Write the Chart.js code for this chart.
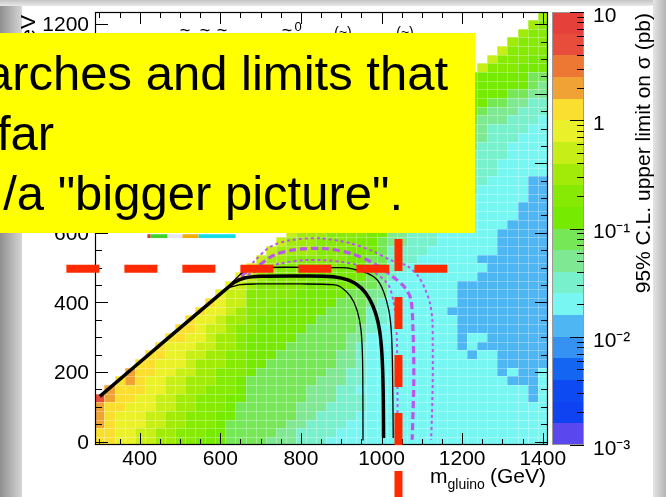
<!DOCTYPE html>
<html>
<head>
<meta charset="utf-8">
<script src="https://cdn.jsdelivr.net/npm/chart.js@4.4.1/dist/chart.umd.min.js"></script>
<style>
  html, body { margin: 0; padding: 0; background: #fff; }
  #page { position: relative; width: 666px; height: 497px; overflow: hidden; background: #fff; }
  .strip { position: absolute; }
  #stripLeft { left: 0; top: 0; width: 22px; height: 497px; background: linear-gradient(to right, #8f8f8f, #d6d6d6); }
  #stripTop { left: 0; top: 0; width: 666px; height: 6px; background: linear-gradient(to bottom, #c4c4c4, #e9e9e9); }
  #stripRight { left: 653px; top: 0; width: 13px; height: 497px; background: linear-gradient(to right, #e4e4e4, #b4b4b4); }
  canvas { position: absolute; left: 0; top: 0; }
</style>
</head>
<body>
<div id="page">
  <div class="strip" id="stripLeft"></div>
  <div class="strip" id="stripTop"></div>
  <div class="strip" id="stripRight"></div>
  <canvas id="limitChart" width="666" height="497"></canvas>
</div>
<script>
/* 95% CL upper limit map in the (m_gluino, m_LSP) plane, with exclusion contours */

const FONT = "'Liberation Sans', Arial, Helvetica, sans-serif";

// bin centres (GeV), 25 GeV bins
const mGluinoBins = [300, 325, 350, 375, 400, 425, 450, 475, 500, 525, 550, 575, 600, 625, 650,
  675, 700, 725, 750, 775, 800, 825, 850, 875, 900, 925, 950, 975, 1000, 1025, 1050, 1075, 1100,
  1125, 1150, 1175, 1200, 1225, 1250, 1275, 1300, 1325, 1350, 1375, 1400];
const mLspBins = [0, 25, 50, 75, 100, 125, 150, 175, 200, 225, 250, 275, 300, 325, 350, 375, 400,
  425, 450, 475, 500, 525, 550, 575, 600, 625, 650, 675, 700, 725, 750, 775, 800, 825, 850, 875,
  900, 925, 950, 975, 1000, 1025, 1050, 1075, 1100, 1125, 1150, 1175, 1200, 1225];
const BIN_WIDTH = 25;

// colour levels of the z axis (pb), 5 per decade
const levelEdges = [0.001, 0.001585, 0.002512, 0.003981, 0.00631, 0.01, 0.01585, 0.02512, 0.03981,
  0.0631, 0.1, 0.1585, 0.2512, 0.3981, 0.631, 1, 1.585, 2.512, 3.981, 6.31, 10];
const paletteColors = ['#5a48ee', '#0f42f0', '#0d4af2', '#1466f2', '#3592f2', '#4fb6f4',
  '#78f6f2', '#78f0cc', '#7ee892', '#76e858', '#76ea00', '#86ea04', '#a2ea08', '#c8ee18',
  '#eaf02a', '#fadf30', '#f0a234', '#ec7834', '#e84c3a', '#e6403a'];

// limit level per cell (base-36 digit = colour level, '.' = no point / hidden)
// rows m_LSP = 0..600, all 45 gluino bins, spaces only for reading
const lowerLevels = [
  "ffeed dccbb aaa99 99888 77766 66666 66666 66666 66666",
  "ffeed dccbb baa99 99988 77776 66666 66666 66666 66666",
  "gfeee ddccb bba99 99998 87777 66666 66666 66666 66666",
  "gfeee ddccb bbaa9 99999 88777 76666 66666 66666 66666",
  "gffee eddcc bbba9 99999 88877 77666 66666 66666 66666",
  "igffe eddcc bbbaa 99999 98887 77666 66666 66666 66656",
  ".gfff eeddc cbbba 99999 98887 76666 66666 66666 66656",
  "..fgf eeddc ccbba 99999 99888 77666 66666 66666 65556",
  "...gf feedd ccbbb a9999 99988 77666 66666 66666 56556",
  "....f feeed cccbb aa999 99998 87666 66666 66666 55555",
  "..... ffeed dccbb aaa99 99998 87666 66666 66566 55555",
  "..... .feee ddccb aaaa9 99999 87666 66666 65655 55555",
  "..... ..ffe edccb aaaaa 99999 88666 66666 65665 55555",
  "..... ...ff eddcb baaaa a9999 98766 66666 65555 55555",
  "..... ....f eedcc baaaa aa999 99776 66666 65555 55555",
  "..... ..... feedc bbaaa aaa99 99776 66666 55555 55555",
  "..... ..... .fedd bbbaa aaaa9 99876 66666 65555 55555",
  "..... ..... ..edd bbbbb aaaaa 99886 66666 65555 55555",
  "..... ..... ...ed cbbbb baaaa a9986 66666 65555 55555",
  "..... ..... ....e dcbbb bbaaa aa987 66666 66655 55555",
  "..... ..... ..... eccbb bbbba aa997 76666 66665 55555",
  "..... ..... ..... .dccb bbbbb aa997 77666 66655 55555",
  "..... ..... ..... ..dcc ccbbb aaa97 77766 66666 55555",
  "..... ..... ..... ...dc ccbbb baa98 87776 66666 55555",
  "..... ..... ..... ....d cccbb bbaa8 87776 66666 55555"
];
// rows m_LSP = 625..1225, only the gluino bins 1225..1400 are visible
const UPPER_FIRST_COL = 37;
const upperLevels = [
  "66665555", "66666555", "66666555", "66666655", "76666655", "77666655", "77766666",
  "77766666", "77776666", "87776666", "88777666", "88777766", "98887776", "a9888777",
  "aa998877", "aaaa9988", "aaaaaa98", "baaaaa99", ".dbbbaaa", "..dbbbaa", "...dbbbb",
  "....cbbb", ".....cbb", "......cb", ".......c"
];

// exclusion contours [m_gluino, m_LSP]
const obsLimit = [[301, 130], [460, 287], [617, 441], [635, 458], [660, 470], [700, 475], [800, 476],
  [880, 474], [920, 463], [950, 441], [970, 410], [985, 370], [995, 320], [1001, 250], [1004, 150], [1005, 10]];
const obsLimitUp = [[612, 436], [640, 470], [663, 493], [700, 500], [800, 501], [900, 500], [922, 498],
  [964, 484], [989, 465], [1005, 431], [1018, 378], [1024, 321], [1027, 226], [1029, 10]];
const obsLimitDown = [[617, 441], [650, 451], [690, 453], [800, 453], [880, 451], [898, 445], [923, 417],
  [939, 378], [949, 321], [953, 226], [954, 3]];
const expLimit = [[650, 478], [691, 503], [733, 536], [782, 551], [857, 555], [923, 541], [981, 512],
  [1028, 474], [1059, 441], [1073, 407], [1078, 321], [1080, 178], [1076, 5]];
const expLimitUp = [[660, 487], [683, 517], [724, 560], [774, 579], [849, 584], [923, 570], [981, 546],
  [1022, 522], [1063, 505], [1092, 474], [1109, 436], [1120, 398], [1126, 350], [1127, 273],
  [1127, 178], [1125, 72], [1123, 5]];
const expLimitDown = [[640, 467], [700, 493], [749, 512], [815, 522], [898, 517], [964, 498],
  [1014, 455], [1030, 400], [1037, 330], [1039, 200], [1040, 5]];

// hand-drawn markers on the slide
const markLsp = [[218, 497], [1164, 497]];
const markGluino = [[1042, 582], [1042, -180]];

// piece of the legend peeking out under the text box
const legendEdges = [419, 427, 469, 506, 546, 638];
const legendColors = ['#c04a2a', '#3fd22a', '#e6e4f2', '#f0ae08', '#12dde6'];
const legendBand = [585, 596];

const xTickValues = [400, 600, 800, 1000, 1200, 1400];
const yTickValues = [0, 200, 400, 600, 800, 1000, 1200];
const cbTickValues = [0.001, 0.01, 0.1, 1, 10];
const cbTickLabels = ['10⁻³', '10⁻²', '10⁻¹', '1', '10'];

const zTitle = '95% C.L. upper limit on σ (pb)';
const boxLines = ['arches and limits that', 'far', '/a "bigger picture".'];

function drawCells(chart) {
  const { ctx, chartArea: a, scales: { x, y } } = chart;
  const half = BIN_WIDTH / 2;
  const cells = [];
  lowerLevels.forEach(function (s, row) {
    s.replace(/ /g, '').split('').forEach(function (ch, col) { cells.push([col, row, ch]); });
  });
  upperLevels.forEach(function (s, k) {
    s.split('').forEach(function (ch, c) { cells.push([UPPER_FIRST_COL + c, lowerLevels.length + k, ch]); });
  });

  ctx.save();
  ctx.beginPath();
  ctx.rect(a.left, a.top, a.right - a.left, a.bottom - a.top);
  ctx.clip();
  const boxes = [];
  cells.forEach(function (c) {
    if (c[2] === '.') return;
    const gx = mGluinoBins[c[0]], ly = mLspBins[c[1]];
    const x0 = Math.round(x.getPixelForValue(gx - half));
    const x1 = Math.round(x.getPixelForValue(gx + half));
    const y0 = Math.round(y.getPixelForValue(ly + half));
    const y1 = Math.round(y.getPixelForValue(ly - half));
    ctx.fillStyle = paletteColors[parseInt(c[2], 36)];
    ctx.fillRect(x0, y0, x1 - x0, y1 - y0);
    boxes.push([x0, y0, x1, y1]);
  });
  ctx.strokeStyle = 'rgba(255,255,255,0.3)';
  ctx.lineWidth = 1;
  ctx.beginPath();
  boxes.forEach(function (b) {
    ctx.moveTo(b[0] + 0.5, b[1]); ctx.lineTo(b[0] + 0.5, b[3]);
    ctx.moveTo(b[0], b[1] + 0.5); ctx.lineTo(b[2], b[1] + 0.5);
  });
  ctx.stroke();
  ctx.restore();
}

function drawFrame(chart) {
  const { ctx, chartArea: a, scales: { x, y } } = chart;
  ctx.save();
  ctx.strokeStyle = '#000';
  ctx.lineWidth = 1.2;
  ctx.strokeRect(a.left + 0.5, a.top + 0.5, a.right - a.left - 1, a.bottom - a.top - 1);
  ctx.lineWidth = 1;
  ctx.beginPath();
  for (let v = 300; v <= 1400; v += 50) {
    const px = Math.round(x.getPixelForValue(v)) + 0.5;
    const len = v % 200 === 0 ? 12 : 6;
    ctx.moveTo(px, a.bottom); ctx.lineTo(px, a.bottom - len);
    ctx.moveTo(px, a.top); ctx.lineTo(px, a.top + len);
  }
  for (let v = 0; v <= 1200; v += 50) {
    const py = Math.round(y.getPixelForValue(v)) + 0.5;
    const len = v % 200 === 0 ? 13 : 7;
    ctx.moveTo(a.left, py); ctx.lineTo(a.left + len, py);
    ctx.moveTo(a.right, py); ctx.lineTo(a.right - len, py);
  }
  ctx.stroke();
  ctx.restore();
}

function drawColorBar(chart) {
  const { ctx, chartArea: a, scales: { cb } } = chart;
  const left = Math.round(cb.left) + 4, right = left + 32;
  ctx.save();
  for (let k = 0; k < paletteColors.length; k++) {
    const top = Math.round(cb.getPixelForValue(levelEdges[k + 1]));
    const bottom = Math.round(cb.getPixelForValue(levelEdges[k]));
    ctx.fillStyle = paletteColors[k];
    ctx.fillRect(left, top, right - left, bottom - top);
  }
  ctx.strokeStyle = '#9a9a9a';
  ctx.lineWidth = 1;
  ctx.strokeRect(left + 0.5, a.top + 0.5, right - left - 1, a.bottom - a.top - 1);
  ctx.strokeStyle = '#000';
  ctx.beginPath();
  for (let e = -3; e <= 1; e++) {
    for (let m = 1; m <= 9; m++) {
      const v = m * Math.pow(10, e);
      if (v > 10.0001) break;
      const py = Math.round(cb.getPixelForValue(v)) + 0.5;
      const len = m === 1 ? 14 : 7;
      ctx.moveTo(right, py); ctx.lineTo(right - len, py);
    }
  }
  ctx.stroke();
  ctx.restore();
}

function drawOverlay(chart) {
  const { ctx, scales: { x, y } } = chart;
  ctx.save();
  ctx.fillStyle = '#000';

  // tops of the plot title, the rest is under the text box
  ctx.textAlign = 'center';
  ctx.textBaseline = 'middle';
  ctx.font = '18px ' + FONT;
  [185, 205, 222, 287].forEach(function (px) { ctx.fillText('~', px, 31); });
  ctx.fillText('–', 275, 33);
  ctx.font = '13px ' + FONT;
  ctx.fillText('0', 298, 27);
  ctx.font = '14px ' + FONT;
  ctx.fillText('(~)', 343, 33);
  ctx.fillText('(~)', 405, 33);

  // legend remnant
  const ly0 = y.getPixelForValue(legendBand[1]), ly1 = y.getPixelForValue(legendBand[0]);
  legendColors.forEach(function (c, i) {
    const lx0 = x.getPixelForValue(legendEdges[i]), lx1 = x.getPixelForValue(legendEdges[i + 1]);
    ctx.fillStyle = c;
    ctx.fillRect(lx0, ly0, lx1 - lx0, ly1 - ly0);
  });
  ctx.fillStyle = '#000';

  // y title (mostly hidden)
  ctx.save();
  ctx.translate(35, 15);
  ctx.rotate(-Math.PI / 2);
  ctx.textAlign = 'right';
  ctx.textBaseline = 'alphabetic';
  ctx.font = '21px ' + FONT;
  ctx.fillText('(GeV', 0, 0);
  ctx.restore();

  // z title
  ctx.save();
  ctx.translate(650, 13);
  ctx.rotate(-Math.PI / 2);
  ctx.textAlign = 'right';
  ctx.textBaseline = 'alphabetic';
  ctx.font = '21px ' + FONT;
  ctx.fillText(zTitle, 0, 0);
  ctx.restore();

  // x title with subscript
  ctx.textAlign = 'left';
  ctx.textBaseline = 'alphabetic';
  ctx.font = '21px ' + FONT;
  ctx.fillText('m', 430, 483);
  const mW = ctx.measureText('m').width;
  ctx.font = '14px ' + FONT;
  ctx.fillText('gluino', 430 + mW, 489);
  ctx.font = '21px ' + FONT;
  ctx.textAlign = 'right';
  ctx.fillText('(GeV)', 546, 483);

  // slide text box
  ctx.fillStyle = '#ffff00';
  ctx.fillRect(0, 33, 475, 200);
  ctx.fillStyle = '#000';
  ctx.font = '49px ' + FONT;
  ctx.textAlign = 'right';
  ctx.fillText(boxLines[0], 448, 90);
  ctx.textAlign = 'left';
  ctx.fillText(boxLines[1], -3, 150);
  ctx.textAlign = 'right';
  ctx.fillText(boxLines[2], 403, 210);
  ctx.restore();
}

const limitPlugin = {
  id: 'limitPlot',
  beforeDatasetsDraw(chart) {
    drawCells(chart);
    drawFrame(chart);
    drawColorBar(chart);
  },
  afterDraw(chart) {
    drawOverlay(chart);
  }
};

function curve(points, color, width, dash, order) {
  return {
    data: points.map(function (p) { return { x: p[0], y: p[1] }; }),
    showLine: true,
    borderColor: color,
    backgroundColor: color,
    borderWidth: width,
    borderDash: dash,
    pointRadius: 0,
    tension: 0.3,
    fill: false,
    order: order
  };
}

function noPadding(s) {
  s.paddingTop = 0; s.paddingBottom = 0; s.paddingLeft = 0; s.paddingRight = 0;
}

function plainNumber(v) { return String(v); }

const tickFont = { family: FONT, size: 21 };
const MAGENTA = '#bb55ee';
const MARKER = '#ff2a00';

const markH = curve(markLsp, MARKER, 8, [33, 25], 0);
markH.clip = false;
markH.tension = 0;
const markV = curve(markGluino, MARKER, 8, [32, 26], 0);
markV.clip = false;
markV.tension = 0;

new Chart(document.getElementById('limitChart'), {
  type: 'scatter',
  data: {
    datasets: [
      markH,
      markV,
      curve(obsLimit, '#000', 3.5, [], 1),
      curve(obsLimitUp, '#000', 1.3, [], 1),
      curve(obsLimitDown, '#000', 1.3, [], 1),
      curve(expLimit, MAGENTA, 3.2, [7, 4], 2),
      curve(expLimitUp, MAGENTA, 2, [3, 3], 2),
      curve(expLimitDown, MAGENTA, 2, [3, 3], 2)
    ]
  },
  options: {
    responsive: false,
    animation: false,
    devicePixelRatio: 1,
    layout: { padding: { top: 12, left: 0, right: 0, bottom: 0 } },
    plugins: { legend: { display: false }, tooltip: { enabled: false } },
    scales: {
      x: {
        type: 'linear', min: 289, max: 1413,
        grid: { display: false, drawTicks: false },
        border: { display: false },
        ticks: { color: '#000', font: tickFont, padding: 2, maxRotation: 0, autoSkip: false, callback: plainNumber },
        afterBuildTicks(s) { s.ticks = xTickValues.map(function (v) { return { value: v }; }); },
        afterFit(s) { s.height = 52; noPadding(s); }
      },
      y: {
        type: 'linear', min: -10, max: 1235,
        grid: { display: false, drawTicks: false },
        border: { display: false },
        ticks: { color: '#000', font: tickFont, padding: 6, labelOffset: 1.5, autoSkip: false, callback: plainNumber },
        afterBuildTicks(s) { s.ticks = yTickValues.map(function (v) { return { value: v }; }); },
        afterFit(s) { s.width = 95; noPadding(s); }
      },
      cb: {
        type: 'logarithmic', position: 'right', min: 0.001, max: 10,
        grid: { display: false, drawTicks: false },
        border: { display: false },
        ticks: {
          color: '#000', font: tickFont, padding: 45, labelOffset: 4, autoSkip: false,
          callback: function (v, i) { return cbTickLabels[i]; }
        },
        afterBuildTicks(s) { s.ticks = cbTickValues.map(function (v) { return { value: v }; }); },
        afterFit(s) { s.width = 118; noPadding(s); }
      }
    }
  },
  plugins: [limitPlugin]
});
</script>
</body>
</html>
